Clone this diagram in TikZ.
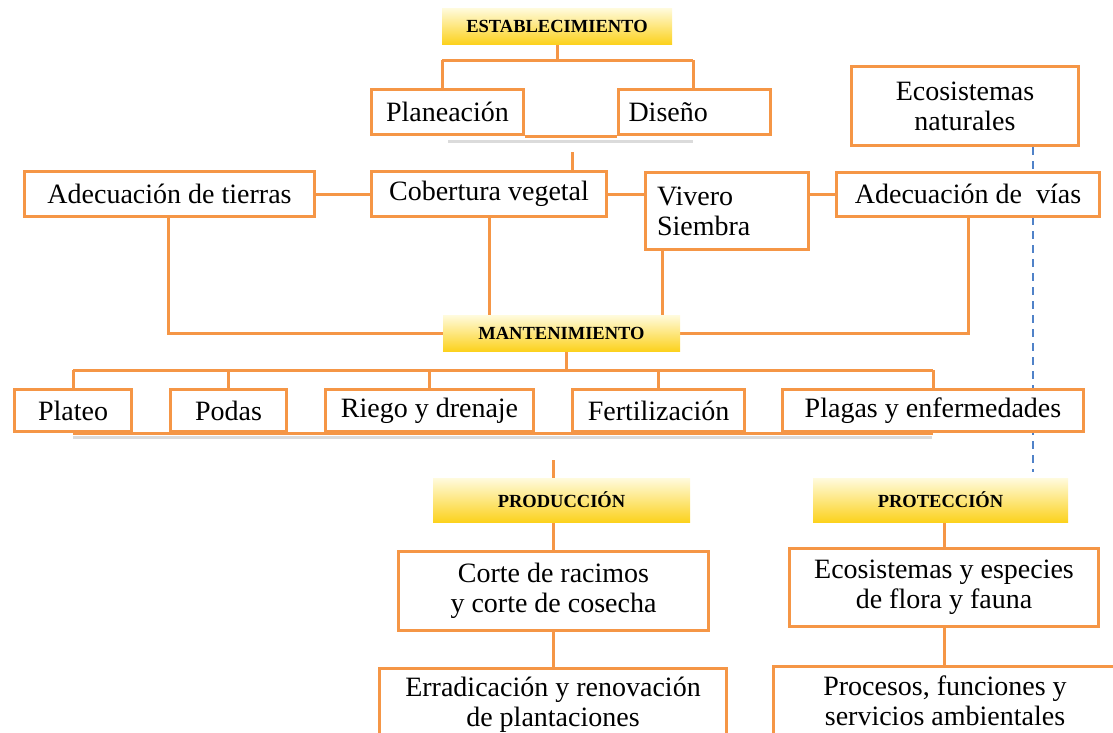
\documentclass[tikz,border=0pt]{standalone}
\usepackage{fontspec}
\setmainfont{Liberation Serif}
\usetikzlibrary{backgrounds}
\definecolor{org}{RGB}{245,150,70}
\definecolor{dblue}{RGB}{80,130,200}
\definecolor{ytop}{RGB}{255,251,222}
\definecolor{ybot}{RGB}{252,210,30}
\tikzset{
  box/.style={draw=org, line width=3pt, fill=white, font=\fontsize{28}{30}\selectfont, align=center, inner sep=4pt},
  ybox/.style={top color=ytop, bottom color=ybot, draw=none, font=\fontsize{18.5}{22}\selectfont\bfseries, inner sep=0pt},
  conn/.style={draw=org, line width=3pt},
  dashline/.style={draw=dblue, line width=2pt, dash pattern=on 8pt off 6pt},
  shadowline/.style={draw=black!40, line width=3pt, opacity=0.35}
}
\begin{document}
\begin{tikzpicture}[x=1pt,y=-1pt]
\useasboundingbox (0,0) rectangle (1113,732);
\clip (0,0) rectangle (1113,732);
% yellow headers
\node[ybox, minimum width=230, minimum height=36] (est) at (557,26) {ESTABLECIMIENTO};
\node[ybox, minimum width=237, minimum height=36] (man) at (561.5,333) {MANTENIMIENTO};
\node[ybox, minimum width=257, minimum height=44] (prod) at (561.5,500) {PRODUCCIÓN};
\node[ybox, minimum width=255, minimum height=44] (prot) at (940.5,500) {PROTECCIÓN};
% boxes
\node[box, minimum width=152, minimum height=45] (plan) at (447.5,112) {Planeación};
\node[box, minimum width=152, minimum height=45, text width=132, align=left] (dis) at (694.5,112) {Diseño};
\node[box, minimum width=227, minimum height=79] (eco1) at (965,106) {Ecosistemas\\naturales};
\node[box, minimum width=290, minimum height=45] (adt) at (169.5,194) {Adecuación de tierras};
\node[box, minimum width=235, minimum height=45] (cob) at (489,194) {Cobertura vegetal};
\node[box, minimum width=163, minimum height=77, text width=140, align=left] (viv) at (727,211) {Vivero\\Siembra};
\node[box, minimum width=263, minimum height=44] (via) at (968,194) {Adecuación de\ \ vías};
\node[box, minimum width=117, minimum height=42] (plateo) at (73,410.5) {Plateo};
\node[box, minimum width=116, minimum height=42] (podas) at (228.5,410.5) {Podas};
\node[box, minimum width=208, minimum height=42] (riego) at (429.5,410.5) {Riego y drenaje};
\node[box, minimum width=172, minimum height=42] (fert) at (658.5,410.5) {Fertilización};
\node[box, minimum width=301, minimum height=42] (plagas) at (933,410.5) {Plagas y enfermedades};
\node[box, minimum width=310, minimum height=79] (corte) at (553.5,590.5) {Corte de racimos\\y corte de cosecha};
\node[box, minimum width=309, minimum height=78] (eco2) at (944,587.5) {Ecosistemas y especies\\de flora y fauna};
\node[box, minimum width=347, inner ysep=9pt, anchor=north] (err) at (553,667) {Erradicación y renovación\\de plantaciones};
\node[box, minimum width=343, inner ysep=9pt, anchor=north] (proc) at (945,665) {Procesos, funciones y\\servicios ambientales};
% coordinates
\coordinate (b1L) at (442,60);
\coordinate (b1R) at (693,60);
\coordinate (t1) at (572,152);
\coordinate (c1) at (168,333);
\coordinate (c2) at (968,333);
\coordinate (v1) at (662,333);
\coordinate (b2) at (566,370);
\coordinate (b2L) at (73,370);
\coordinate (b2R) at (933,370);
\coordinate (t2) at (553,460);
\coordinate (d1) at (1033,147);
\coordinate (d2) at (1033,472);
\begin{scope}[on background layer]
\draw[shadowline] (448,141) -- (693,141);
\draw[shadowline] (73,437) -- (932,437);
\draw[dashline] (d1) -- (d2);
% establecimiento
\draw[conn] (est.south) -- (est.south |- b1L);
\draw[conn] (b1L) -- (b1R);
\draw[conn] (b1L) -- (b1L |- plan.north);
\draw[conn] (b1R) -- (b1R |- dis.north);
\draw[conn] (plan.south east) -- (dis.south west);
\draw[conn] (t1) -- (t1 |- cob.north);
% row 2
\draw[conn] (adt.east) -- (cob.west);
\draw[conn] (cob.east) -- (cob.east -| viv.west);
\draw[conn] (via.west -| viv.east) -- (via.west);
\draw[conn] (c1 |- adt.south) -- (c1) -- (man.west |- c1);
\draw[conn] (cob.south) -- (cob.south |- man.north);
\draw[conn] (v1 |- viv.south) -- (v1 |- man.north);
\draw[conn] (via.south) -- (c2) -- (man.east |- c2);
% mantenimiento
\draw[conn] (b2 |- man.south) -- (b2);
\draw[conn] (b2L) -- (b2R);
\draw[conn] (b2L) -- (plateo.north);
\draw[conn] (podas.north |- b2L) -- (podas.north);
\draw[conn] (riego.north |- b2L) -- (riego.north);
\draw[conn] (fert.north |- b2L) -- (fert.north);
\draw[conn] (b2R) -- (plagas.north);
\draw[conn] (plateo.south) -- (plagas.south);
% produccion
\draw[conn] (t2) -- (t2 |- prod.north);
\draw[conn] (t2 |- prod.south) -- (t2 |- corte.north);
\draw[conn] (t2 |- corte.south) -- (t2 |- err.north);
% proteccion
\draw[conn] (eco2.north |- prot.south) -- (eco2.north);
\draw[conn] (eco2.south) -- (eco2.south |- proc.north);
\end{scope}
\end{tikzpicture}
\end{document}
